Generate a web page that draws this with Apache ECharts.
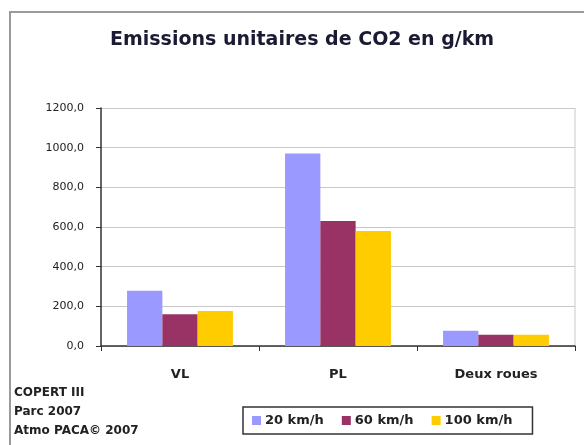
<!DOCTYPE html>
<html><head><meta charset="utf-8">
<script src="https://cdn.jsdelivr.net/npm/echarts@6/dist/echarts.min.js"></script>
<style>html,body{margin:0;padding:0;background:#fff}#c{width:584px;height:445px}</style>
</head><body><div id="c"></div>
<script>
const categories = ['VL', 'PL', 'Deux roues'];
const seriesNames = ['20 km/h', '60 km/h', '100 km/h'];
const v20 = [278, 970, 77];
const v60 = [160, 630, 57];
const v100 = [177, 580, 57];
const colors = ['#9999FF', '#993366', '#FFCC00'];
const sourceLines = ['COPERT III', 'Parc 2007', 'Atmo PACA\u00A9 2007'];

const chart = echarts.init(document.getElementById('c'));
const font = 'DejaVu Sans, Verdana, sans-serif';
const mk = (name, data, i) => ({
  name, type: 'bar', data, barGap: 0, barCategoryGap: '33%',
  itemStyle: { color: colors[i] }
});
chart.setOption({
  animation: false,
  title: {
    text: 'Emissions unitaires de CO2 en g/km',
    left: 105, top: 26,
    textStyle: { fontFamily: font, fontSize: 19, fontWeight: 'bold', color: '#1a1a33' }
  },
  grid: { left: 101, right: 9, top: 108, bottom: 99, show: false },
  xAxis: {
    type: 'category', data: categories,
    axisLine: { lineStyle: { color: '#333', width: 1.5 } },
    axisTick: { show: true, length: 5, lineStyle: { color: '#333' } },
    axisLabel: { fontFamily: font, fontSize: 13, fontWeight: 'bold', color: '#222', margin: 22 }
  },
  yAxis: {
    type: 'value', min: 0, max: 1200, interval: 200,
    axisLine: { show: true, lineStyle: { color: '#333', width: 1.5 } },
    axisTick: { show: true, length: 5, lineStyle: { color: '#333' } },
    axisLabel: { fontFamily: font, fontSize: 11, color: '#222', margin: 17,
      formatter: v => v.toFixed(1).replace('.', ',') },
    splitLine: { lineStyle: { color: '#c8c8c8', width: 1 } }
  },
  legend: {
    data: seriesNames, left: 243, top: 407,
    itemWidth: 9, itemHeight: 9, itemGap: 18,
    padding: [7, 20, 7, 9],
    borderColor: '#333', borderWidth: 1.5,
    textStyle: { fontFamily: font, fontSize: 13, fontWeight: 'bold', color: '#222', padding: [0, 0, 0, -1] },
    icon: 'rect'
  },
  graphic: [
    { type: 'rect', shape: { x: 10, y: 12, width: 600, height: 460 },
      style: { fill: 'none', stroke: '#9a9a9a', lineWidth: 2 }, silent: true },
    { type: 'line', shape: { x1: 575, y1: 108, x2: 575, y2: 346 },
      style: { stroke: '#c8c8c8', lineWidth: 1 } },
    ...sourceLines.map((t, i) => ({
      type: 'text', left: 14, top: 387 + i * 19,
      style: { text: t, fontFamily: font, fontSize: 12, fontWeight: 'bold', fill: '#222' }
    }))
  ],
  series: [mk(seriesNames[0], v20, 0), mk(seriesNames[1], v60, 1), mk(seriesNames[2], v100, 2)]
});
</script></body></html>
